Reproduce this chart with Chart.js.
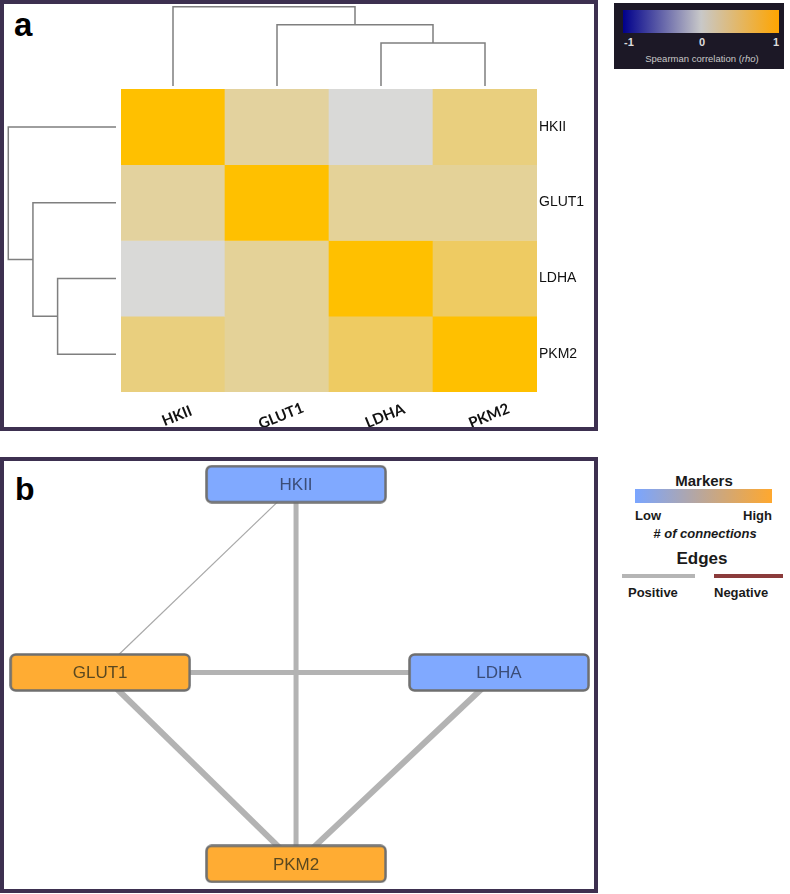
<!DOCTYPE html>
<html>
<head>
<meta charset="utf-8">
<script src="https://cdn.jsdelivr.net/npm/chart.js@4.4.1/dist/chart.umd.min.js"></script>
<style>
  body { margin: 0; width: 790px; height: 894px; background: #fff; position: relative; overflow: hidden;
         font-family: "Liberation Sans", Arial, sans-serif; color: #1a1a1a; }
  .frame { position: absolute; border: 4px solid #3d3050; box-sizing: border-box; }
  .abs { position: absolute; line-height: 1; white-space: nowrap; }
  canvas { position: absolute; display: block; }
  .letter { position: absolute; line-height: 1; font-weight: bold; color: #000; }
</style>
</head>
<body>
<div class="frame" style="left:0;top:0;width:598px;height:431px"></div>
<div class="frame" style="left:0;top:457px;width:598px;height:436px"></div>
<div class="letter" style="left:14px;top:8px;font-size:33px">a</div>
<div class="letter" style="left:15px;top:473px;font-size:32px">b</div>

<canvas id="colDendro" width="416" height="86" style="left:121px;top:0"></canvas>
<canvas id="rowDendro" width="112" height="303" style="left:4px;top:89px"></canvas>
<canvas id="heat" width="472" height="338" style="left:121px;top:89px"></canvas>
<canvas id="net" width="590" height="429" style="left:4px;top:461px"></canvas>

<!-- colour scale, panel a -->
<div class="abs" style="left:614px;top:3px;width:170px;height:66px;background:#1c1826"></div>
<div class="abs" style="left:623px;top:10px;width:156px;height:23px;background:linear-gradient(to right,#00008b 0%,#c8c8c8 50%,#ffa500 100%)"></div>
<div class="abs" style="left:624px;top:37px;font-size:11px;font-weight:bold;color:#ddd">-1</div>
<div class="abs" style="left:682px;top:37px;width:40px;text-align:center;font-size:11px;font-weight:bold;color:#ddd">0</div>
<div class="abs" style="left:739px;top:37px;width:40px;text-align:right;font-size:11px;font-weight:bold;color:#ddd">1</div>
<div class="abs" style="left:622px;top:54px;width:160px;text-align:center;font-size:9.5px;color:#c8c8c8">Spearman correlation (<i>rho</i>)</div>

<!-- legend, panel b -->
<div class="abs" style="left:634px;top:473px;width:140px;text-align:center;font-size:15px;font-weight:bold">Markers</div>
<div class="abs" style="left:635px;top:489px;width:137px;height:14px;background:linear-gradient(to right,#7aa5ff,#ffa82e)"></div>
<div class="abs" style="left:635px;top:509px;font-size:13px;font-weight:bold">Low</div>
<div class="abs" style="left:712px;top:509px;width:60px;text-align:right;font-size:13px;font-weight:bold">High</div>
<div class="abs" style="left:630px;top:527px;width:150px;text-align:center;font-size:13px;font-weight:bold;font-style:italic"># of connections</div>
<div class="abs" style="left:632px;top:550px;width:140px;text-align:center;font-size:17px;font-weight:bold">Edges</div>
<div class="abs" style="left:622px;top:574px;width:73px;height:4px;background:#b5b5b5"></div>
<div class="abs" style="left:714px;top:574px;width:69px;height:4px;background:#8b3b3b"></div>
<div class="abs" style="left:628px;top:586px;font-size:13px;font-weight:bold">Positive</div>
<div class="abs" style="left:714px;top:586px;font-size:13px;font-weight:bold">Negative</div>

<script>
// genes, in the clustered order of the heatmap
const genes = ['HKII', 'GLUT1', 'LDHA', 'PKM2'];

// Spearman rho, rows / columns in gene order
const rhoHKII  = [1.00, 0.27, 0.01, 0.42];
const rhoGLUT1 = [0.27, 1.00, 0.30, 0.30];
const rhoLDHA  = [0.01, 0.30, 1.00, 0.55];
const rhoPKM2  = [0.42, 0.30, 0.55, 1.00];
const rhoRows = [rhoHKII, rhoGLUT1, rhoLDHA, rhoPKM2];

// dendrogram merges: leaf index, or -(k+1) for merge k
const mergeA = [2, 1, 0];
const mergeB = [3, -1, -2];
const mergeHeight = [0.45, 0.64, 0.83];

// network
const nodeX = [49.5, 16.3, 83.9, 49.5];
const nodeY = [5.4, 49.3, 49.3, 93.9];
const edgeFrom = ['HKII', 'GLUT1', 'GLUT1', 'LDHA', 'HKII'];
const edgeTo   = ['PKM2', 'LDHA', 'PKM2', 'PKM2', 'GLUT1'];
const edgeRho  = [0.42, 0.30, 0.30, 0.55, 0.27];

const edgeWidths = [5, 5, 6, 6, 1.2];

Chart.defaults.animation = false;
Chart.defaults.events = [];
Chart.defaults.plugins.legend.display = false;
Chart.defaults.plugins.tooltip.enabled = false;

function mix(a, b, t) {
    return a.map((v, i) => Math.round(v + (b[i] - v) * t));
}
function rhoColor(r) {
    const grey = [217, 217, 217], gold = [255, 192, 0], navy = [0, 0, 139];
    const c = r >= 0 ? mix(grey, gold, r) : mix(grey, navy, -r);
    return `rgb(${c[0]},${c[1]},${c[2]})`;
}

// ---- heatmap ----
const heatLabels = {
    id: 'heatLabels',
    afterDraw(chart) {
        const { ctx, chartArea, scales: { x, y } } = chart;
        ctx.save();
        ctx.fillStyle = '#111';
        ctx.font = '14px "Liberation Sans", Arial';
        ctx.textAlign = 'left';
        ctx.textBaseline = 'middle';
        genes.forEach((g, i) => ctx.fillText(g, chartArea.right + 2, y.getPixelForValue(i + 0.5)));
        ctx.font = 'bold 15px Lato';
        ctx.textAlign = 'center';
        genes.forEach((g, i) => {
            ctx.save();
            ctx.translate(x.getPixelForValue(i) + 4, chartArea.bottom + 24);
            ctx.rotate(-22 * Math.PI / 180);
            ctx.fillText(g, 0, 0);
            ctx.restore();
        });
        ctx.restore();
    }
};

new Chart(document.getElementById('heat'), {
    type: 'bar',
    data: {
        labels: genes,
        datasets: rhoRows.map((row, r) => ({
            label: genes[r],
            data: genes.map(() => 1),
            backgroundColor: row.map(rhoColor),
            borderWidth: 0,
            categoryPercentage: 1,
            barPercentage: 1
        }))
    },
    options: {
        responsive: false,
        layout: { padding: { right: 56, bottom: 35 } },
        scales: {
            x: { stacked: true, display: false },
            y: { stacked: true, display: false, min: 0, max: 4, reverse: true }
        }
    },
    plugins: [heatLabels]
});

// ---- dendrograms ----
function dendroSegments() {
    const info = [];
    const node = id => id >= 0 ? { pos: id + 0.5, h: 0 } : info[-id - 1];
    return mergeHeight.map((h, k) => {
        const a = node(mergeA[k]), b = node(mergeB[k]);
        info[k] = { pos: (a.pos + b.pos) / 2, h: h };
        return [[a.pos, a.h], [a.pos, h], [b.pos, h], [b.pos, b.h]];
    });
}
const segs = dendroSegments();
const dendroStyle = { showLine: true, borderColor: '#7f7f7f', borderWidth: 1.5, pointRadius: 0, clip: false };

new Chart(document.getElementById('colDendro'), {
    type: 'scatter',
    data: { datasets: segs.map(s => ({ ...dendroStyle, data: s.map(p => ({ x: p[0], y: p[1] })) })) },
    options: {
        responsive: false,
        layout: { autoPadding: false },
        scales: {
            x: { type: 'linear', min: 0, max: 4, display: false },
            y: { type: 'linear', min: 0, max: 0.9, display: false }
        }
    }
});

new Chart(document.getElementById('rowDendro'), {
    type: 'scatter',
    data: { datasets: segs.map(s => ({ ...dendroStyle, data: s.map(p => ({ x: p[1], y: p[0] })) })) },
    options: {
        responsive: false,
        layout: { autoPadding: false },
        scales: {
            x: { type: 'linear', min: 0, max: 0.863, reverse: true, display: false },
            y: { type: 'linear', min: 0, max: 4, reverse: true, display: false }
        }
    }
});

// ---- network ----
const degree = genes.map(g => edgeFrom.filter(e => e === g).length + edgeTo.filter(e => e === g).length);
const minDeg = Math.min(...degree), maxDeg = Math.max(...degree);
const lowCol = '#80a9ff', highCol = '#ffac33';

function nodeBox(fill) {
    const c = document.createElement('canvas');
    c.width = 182; c.height = 39;
    const g = c.getContext('2d');
    g.beginPath();
    g.roundRect(1.5, 1.5, 179, 36, 5);
    g.fillStyle = fill;
    g.fill();
    g.lineWidth = 2.5;
    g.strokeStyle = '#6f6f6f';
    g.stroke();
    return c;
}
const nodeHigh = degree.map(d => d === maxDeg && maxDeg > minDeg);

const nodeLabels = {
    id: 'nodeLabels',
    afterDatasetsDraw(chart) {
        const { ctx } = chart;
        const meta = chart.getDatasetMeta(0);
        ctx.save();
        ctx.font = '17px "Liberation Sans", Arial';
        ctx.textAlign = 'center';
        ctx.textBaseline = 'middle';
        meta.data.forEach((pt, i) => {
            ctx.fillStyle = nodeHigh[i] ? '#5a4820' : '#3b4d78';
            ctx.fillText(genes[i], pt.x, pt.y + 1);
        });
        ctx.restore();
    }
};

const idx = g => genes.indexOf(g);
new Chart(document.getElementById('net'), {
    type: 'scatter',
    data: {
        datasets: [
            {
                data: genes.map((g, i) => ({ x: nodeX[i], y: nodeY[i] })),
                pointStyle: nodeHigh.map(h => nodeBox(h ? highCol : lowCol)),
                pointRadius: 10,
                order: 0,
                clip: false
            },
            ...edgeFrom.map((f, k) => ({
                data: [
                    { x: nodeX[idx(f)], y: nodeY[idx(f)] },
                    { x: nodeX[idx(edgeTo[k])], y: nodeY[idx(edgeTo[k])] }
                ],
                showLine: true,
                borderColor: edgeRho[k] >= 0 ? (edgeWidths[k] < 2 ? '#a9a9a9' : '#b3b3b3') : '#8b3b3b',
                borderWidth: edgeWidths[k],
                pointRadius: 0,
                order: 1,
                clip: false
            }))
        ]
    },
    options: {
        responsive: false,
        layout: { autoPadding: false },
        scales: {
            x: { type: 'linear', min: 0, max: 100, display: false },
            y: { type: 'linear', min: 0, max: 100, reverse: true, display: false }
        }
    },
    plugins: [nodeLabels]
});
</script>
</body>
</html>
